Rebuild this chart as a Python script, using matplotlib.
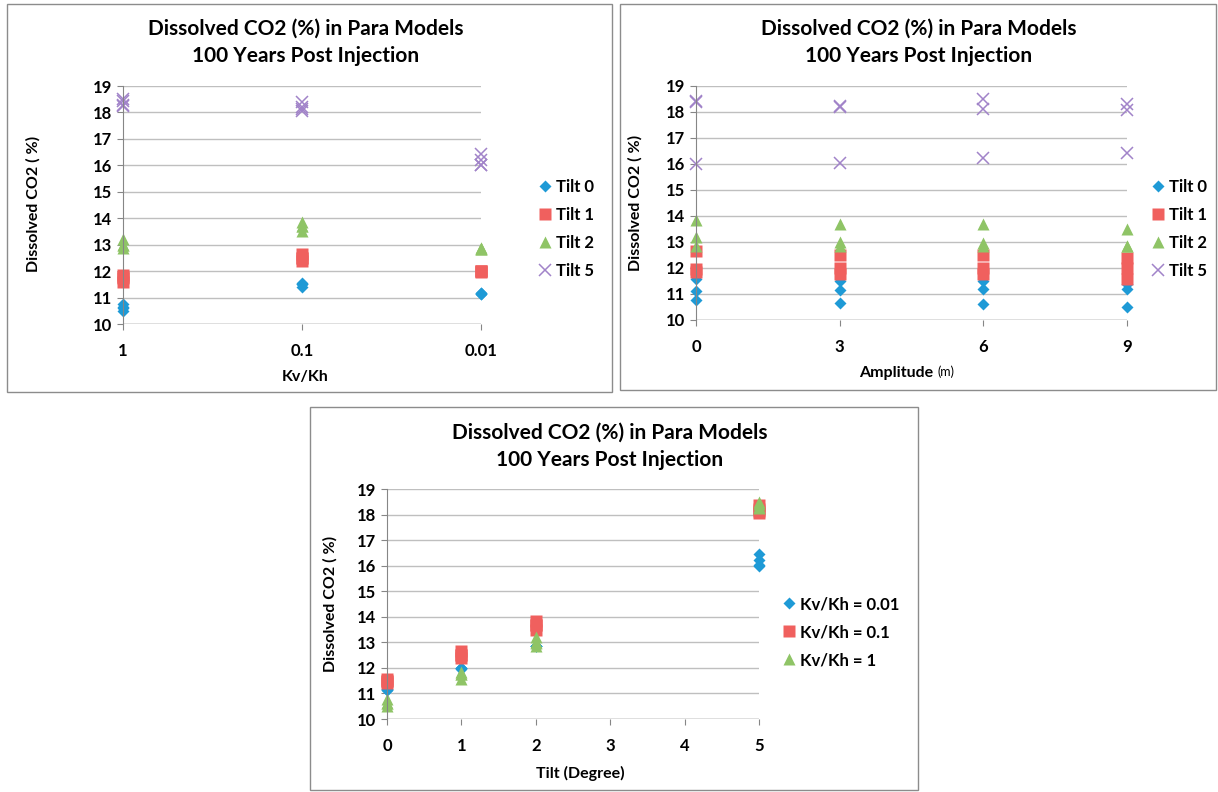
import numpy as np
import matplotlib
matplotlib.use("Agg")
import matplotlib.pyplot as plt
from matplotlib.patches import Rectangle

plt.rcParams['font.family'] = ['Lato', 'DejaVu Sans']

tilts = [0, 1, 2, 5]
kvkh = [1, 0.1, 0.01]
amps = [0, 3, 6, 9]

# dissolved CO2 (%) for each tilt: rows = Kv/Kh (1, 0.1, 0.01), cols = amplitude (0, 3, 6, 9 m)
tilt0 = [[10.77, 10.64, 10.62, 10.51],
         [11.56, 11.50, 11.50, 11.40],
         [11.13, 11.15, 11.18, 11.18]]
tilt1 = [[11.85, 11.77, 11.75, 11.58],
         [12.65, 12.50, 12.50, 12.40],
         [11.95, 12.00, 12.00, 12.00]]
tilt2 = [[13.20, 13.00, 12.97, 12.86],
         [13.85, 13.69, 13.69, 13.50],
         [12.85, 12.86, 12.85, 12.86]]
tilt5 = [[18.42, 18.25, 18.50, 18.30],
         [18.38, 18.20, 18.12, 18.07],
         [16.00, 16.03, 16.22, 16.44]]

co2 = np.array([tilt0, tilt1, tilt2, tilt5])   # shape (tilt, kvkh, amp)

tilt_labels = ["Tilt 0", "Tilt 1", "Tilt 2", "Tilt 5"]
kv_labels = ["Kv/Kh = 0.01", "Kv/Kh = 0.1", "Kv/Kh = 1"]

colors = ["#1E9AD6", "#F0605E", "#8FC466", "#A183C9"]
markers = ["D", "s", "^", "x"]
msizes = [6.0, 8.3, 8.8, 8.5]

title = "Dissolved CO2 (%) in Para Models\n100 Years Post Injection"
ylab = "Dissolved CO2 ( %)"

W, H = 1218, 792
fig = plt.figure(figsize=(W / 100, H / 100), dpi=100)


def box(x0, y0, x1, y1):
    return [x0 / W, 1 - y1 / H, (x1 - x0) / W, (y1 - y0) / H]


def frame(x0, y0, x1, y1):
    r = Rectangle((x0 / W, 1 - y1 / H), (x1 - x0) / W, (y1 - y0) / H,
                  transform=fig.transFigure, fill=False, ec="#8c8c8c", lw=1)
    fig.patches.append(r)


def ftext(x, y, s, **kw):
    # x, y in pixels from top-left
    return fig.text(x / W, 1 - y / H, s, **kw)


def style(ax):
    ax.set_ylim(10, 19)
    ax.set_yticks(range(10, 20))
    ax.grid(axis="y", color="#bfbfbf", lw=1)
    ax.set_axisbelow(True)
    for s in ["top", "right", "bottom"]:
        ax.spines[s].set_visible(False)
    ax.spines["left"].set_color("#868686")
    ax.axhline(10, color="#868686", lw=1, zorder=0.5)
    ax.tick_params(axis="y", length=4, color="#868686", pad=4, labelsize=12)
    ax.tick_params(axis="x", length=4, color="#868686", pad=10, labelsize=12)
    ax.tick_params(axis="x", which="minor", length=0)
    for t in ax.get_xticklabels() + ax.get_yticklabels():
        t.set_fontweight("bold")


def pts(ax, x, y, i, label):
    kw = dict(color=colors[i], ms=msizes[i], ls="none", clip_on=False, label=label)
    if markers[i] == "x":
        kw["mew"] = 1.1
    else:
        kw["mec"] = "none"
    ax.plot(x, y, markers[i], **kw)


def legend(ax, x, y):
    ax.legend(loc="center left", bbox_to_anchor=(x, y), frameon=False,
              handlelength=0.7, handletextpad=0.3, labelspacing=0.72,
              borderpad=0, borderaxespad=0, prop=dict(weight="bold", size=12))


lab = dict(fontsize=11.5, fontweight="bold", ha="center", va="center")
ttl = dict(fontsize=15, fontweight="bold", ha="center", va="center", linespacing=1.45)

# panel 1: vs Kv/Kh
frame(7, 4, 612, 392)
ax1 = fig.add_axes(box(123, 86, 481, 324))
for i in range(4):
    x = np.repeat(kvkh, len(amps))
    pts(ax1, x, co2[i].ravel(), i, tilt_labels[i])
ax1.set_xscale("log")
ax1.set_xlim(1, 0.01)
ax1.set_xticks(kvkh)
ax1.set_xticklabels(["1", "0.1", "0.01"])
style(ax1)
legend(ax1, (539 - 123) / 358, 1 - (229 - 86) / 238)
ftext(306, 42, title, **ttl)
ftext(305, 377, "Kv/Kh", **lab)
ftext(33, 204, ylab, rotation=90, **lab)

# panel 2: vs amplitude
frame(620, 4, 1216, 390)
ax2 = fig.add_axes(box(696, 86, 1127, 320))
for i in range(4):
    x = np.tile(amps, len(kvkh))
    pts(ax2, x, co2[i].ravel(), i, tilt_labels[i])
ax2.set_xlim(0, 9)
ax2.set_xticks(amps)
style(ax2)
legend(ax2, (1152 - 696) / 431, 1 - (229 - 86) / 234)
ftext(919, 42, title, **ttl)
ftext(933, 373, "Amplitude", fontsize=11.5, fontweight="bold", ha="right", va="center")
ftext(937, 372, "(m)", fontsize=9, ha="left", va="center")
ftext(635, 203, ylab, rotation=90, **lab)

# panel 3: vs tilt, one series per Kv/Kh (0.01, 0.1, 1)
frame(310, 407, 918, 790)
ax3 = fig.add_axes(box(387, 489, 759, 719))
for j, k in enumerate([2, 1, 0]):
    x = np.repeat(tilts, len(amps))
    pts(ax3, x, co2[:, k, :].ravel(), j, kv_labels[j])
ax3.set_xlim(0, 5)
ax3.set_xticks(range(6))
style(ax3)
legend(ax3, (783 - 387) / 372, 1 - (632 - 489) / 230)
ftext(610, 446, title, **ttl)
ftext(580, 773, "Tilt (Degree)", **lab)
ftext(330, 604, ylab, rotation=90, **lab)

fig.savefig("out.png", dpi=100)
